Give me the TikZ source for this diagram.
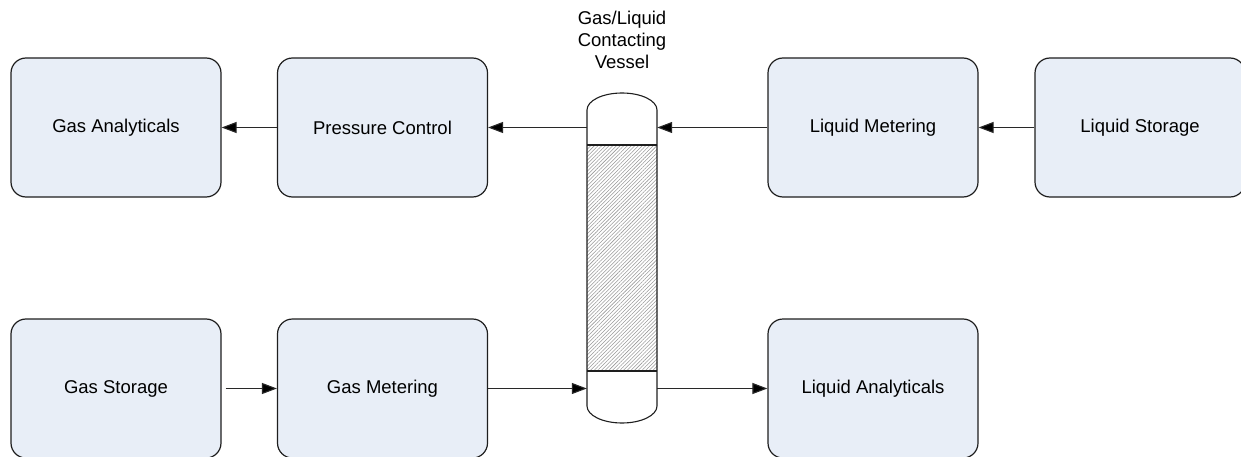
\documentclass[tikz,border=0pt]{standalone}
\usepackage{fontspec}
\setmainfont{Liberation Sans}
\usetikzlibrary{arrows.meta,patterns.meta}
\definecolor{boxfill}{RGB}{232,238,247}
\definecolor{boxline}{RGB}{30,30,30}
\definecolor{wire}{RGB}{40,40,40}
\tikzset{
  unit/.style={draw=boxline, line width=1.2pt, fill=boxfill, rounded corners=15pt,
    minimum width=210pt, minimum height=139pt, inner sep=0pt,
    font=\fontsize{18.5}{22}\selectfont},
  arr/.style={draw=wire, line width=1.1pt, -{Triangle[length=15pt,width=11pt,fill=black]}},
}
\begin{document}
\begin{tikzpicture}[x=1pt,y=-1pt]
\useasboundingbox (0,0) rectangle (1241,457);
% top row
\node[unit] (ga) at (116,127.5) {Gas Analyticals};
\node[unit] (pc) at (382.5,127.5) {Pressure Control};
\node[unit] (lm) at (873,127.5) {Liquid Metering};
\node[unit] (ls) at (1140,127.5) {Liquid Storage};
% bottom row
\node[unit] (gs) at (116,388.5) {Gas Storage};
\node[unit] (gm) at (382.5,388.5) {Gas Metering};
\node[unit] (la) at (873,388.5) {Liquid Analyticals};
% vessel
\node[minimum width=70pt, minimum height=296pt, inner sep=0pt] (vessel) at (622,258) {};
\fill[pattern={Lines[angle=45,distance=2.6pt,line width=0.55pt]}, pattern color=gray!80]
  (587,145) rectangle (657,371);
\draw[boxline, line width=1.1pt]
  (587,406) -- (587,110) arc[start angle=180, end angle=0, x radius=35pt, y radius=17pt]
  -- (657,406) arc[start angle=0, end angle=-180, x radius=35pt, y radius=17pt] -- cycle;
\draw[boxline, line width=1.1pt] (587,145) -- (657,145) (587,371) -- (657,371);
\node[align=center, font=\fontsize{18.5}{22}\selectfont] (vlabel) at (622,40)
  {Gas/Liquid\\Contacting\\Vessel};
% connectors
\draw[arr] (pc.west) -- (ga.east);
\draw[arr] (vessel.west |- pc.east) -- (pc.east);
\draw[arr] (lm.west) -- (vessel.east |- lm.west);
\draw[arr] (ls.west) -- (lm.east);
\draw[arr] ([xshift=4pt]gs.east) -- (gm.west);
\draw[arr] (gm.east) -- (vessel.west |- gm.east);
\draw[arr] (vessel.east |- la.west) -- (la.west);
\end{tikzpicture}
\end{document}
